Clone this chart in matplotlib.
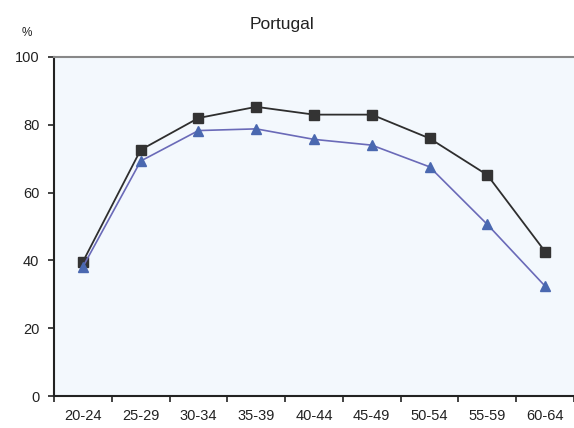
import matplotlib
matplotlib.use("Agg")
import matplotlib.pyplot as plt
import numpy as np

age_groups = ["20-24", "25-29", "30-34", "35-39", "40-44", "45-49", "50-54", "55-59", "60-64"]
series_black = [39.6, 72.6, 82.0, 85.3, 83.0, 83.0, 76.0, 65.2, 42.6]
series_blue = [38.1, 69.3, 78.3, 78.8, 75.7, 74.0, 67.6, 50.6, 32.4]
y_ticks = [0, 20, 40, 60, 80, 100]

plt.rcParams["font.family"] = ["Liberation Sans", "DejaVu Sans"]

fig = plt.figure(figsize=(5.74, 4.28), dpi=100)
ax = fig.add_axes([54 / 574, 1 - 396 / 428, 1 - 54 / 574, (396 - 57) / 428])
ax.set_facecolor("#f3f8fd")

x = np.arange(len(age_groups))
ax.plot(x, series_black, color="#2e2e2e", lw=1.3, marker="s", ms=7,
        mfc="#333333", mec="#333333", zorder=3)
ax.plot(x, series_blue, color="#6a6ab8", lw=1.2, marker="^", ms=7,
        mfc="#4a68b0", mec="#4a68b0", zorder=3)

ax.set_xlim(-0.5, len(age_groups) - 0.5)
ax.set_ylim(0, 100)
ax.set_yticks(y_ticks)
ax.set_yticklabels([str(v) for v in y_ticks])
ax.set_xticks(x)
ax.set_xticklabels(age_groups)
ax.set_xticks(np.arange(len(age_groups) + 1) - 0.5, minor=True)
ax.tick_params(axis="x", which="major", length=0, pad=9, labelsize=10.5, colors="#222222")
ax.tick_params(axis="x", which="minor", length=4, width=1.2, direction="out", color="#222222")
ax.tick_params(axis="y", length=4, width=1.2, direction="out", pad=6.5, labelsize=10.5,
               colors="#222222")

for side in ("left", "bottom"):
    ax.spines[side].set_color("#222222")
    ax.spines[side].set_linewidth(1.5)
ax.spines["top"].set_color("#888888")
ax.spines["top"].set_linewidth(1.5)
ax.spines["right"].set_visible(False)

fig.text(282 / 574, 1 - 24 / 428, "Portugal", ha="center", va="center", fontsize=12.5, color="#222222")
fig.text(27 / 574, 1 - 33 / 428, "%", ha="center", va="center", fontsize=8.5, color="#222222")

fig.savefig("out.png", dpi=100)
